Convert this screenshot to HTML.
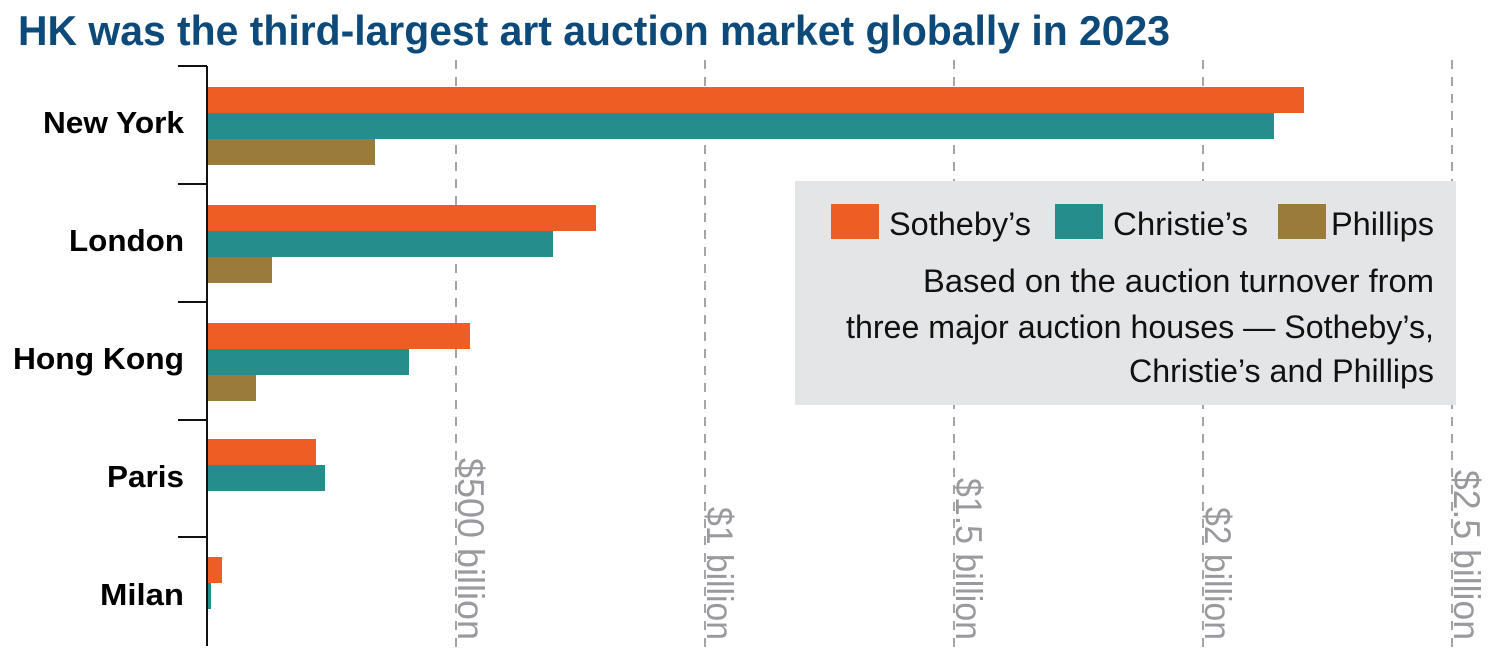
<!DOCTYPE html>
<html><head><meta charset="utf-8"><style>
html,body{margin:0;padding:0;background:#fff;}
svg{display:block;}
</style></head><body>
<svg width="1509" height="666" viewBox="0 0 1509 666" xmlns="http://www.w3.org/2000/svg" font-family="'Liberation Sans Narrow','Liberation Sans',sans-serif">
<text x="18" y="45" font-size="42" font-weight="bold" fill="#0d4a7a" textLength="1152" lengthAdjust="spacingAndGlyphs">HK was the third-largest art auction market globally in 2023</text>
<g stroke="#a5a5a8" stroke-width="2" stroke-dasharray="9 8">
<line x1="456" y1="60" x2="456" y2="652"/>
<line x1="705" y1="60" x2="705" y2="652"/>
<line x1="954" y1="60" x2="954" y2="652"/>
<line x1="1203" y1="60" x2="1203" y2="652"/>
<line x1="1452" y1="60" x2="1452" y2="652"/>
</g>
<rect x="795" y="181" width="661" height="224" fill="#e4e5e6"/>
<g fill="#9a9a9e" font-size="37">
<text transform="translate(458,458) rotate(90)" textLength="182" lengthAdjust="spacingAndGlyphs">$500 billion</text>
<text transform="translate(707,507) rotate(90)" textLength="133" lengthAdjust="spacingAndGlyphs">$1 billion</text>
<text transform="translate(956,478) rotate(90)" textLength="162" lengthAdjust="spacingAndGlyphs">$1.5 billion</text>
<text transform="translate(1205,507) rotate(90)" textLength="133" lengthAdjust="spacingAndGlyphs">$2 billion</text>
<text transform="translate(1454,470) rotate(90)" textLength="170" lengthAdjust="spacingAndGlyphs">$2.5 billion</text>
</g>
<g stroke="#111" stroke-width="2" fill="none">
<line x1="207" y1="66" x2="207" y2="646"/>
<line x1="178" y1="66" x2="207" y2="66"/>
<line x1="178" y1="184" x2="207" y2="184"/>
<line x1="178" y1="302" x2="207" y2="302"/>
<line x1="178" y1="420" x2="207" y2="420"/>
<line x1="178" y1="537" x2="207" y2="537"/>
</g>
<g>
<rect x="208" y="87" width="1096" height="26" fill="#ee5e24"/>
<rect x="208" y="113" width="1066" height="26" fill="#258d8c"/>
<rect x="208" y="139" width="167" height="26" fill="#9a7b3c"/>
<rect x="208" y="205" width="388" height="26" fill="#ee5e24"/>
<rect x="208" y="231" width="345" height="26" fill="#258d8c"/>
<rect x="208" y="257" width="64" height="26" fill="#9a7b3c"/>
<rect x="208" y="323" width="262" height="26" fill="#ee5e24"/>
<rect x="208" y="349" width="201" height="26" fill="#258d8c"/>
<rect x="208" y="375" width="48" height="26" fill="#9a7b3c"/>
<rect x="208" y="439" width="108" height="26" fill="#ee5e24"/>
<rect x="208" y="465" width="117" height="26" fill="#258d8c"/>
<rect x="208" y="557" width="14" height="26" fill="#ee5e24"/>
<rect x="208" y="583" width="3" height="26" fill="#258d8c"/>
</g>
<g font-family="'Liberation Sans',sans-serif" font-weight="bold" font-size="31" fill="#000">
<text x="43" y="133" textLength="141" lengthAdjust="spacingAndGlyphs">New York</text>
<text x="69" y="251" textLength="115" lengthAdjust="spacingAndGlyphs">London</text>
<text x="13" y="369" textLength="171" lengthAdjust="spacingAndGlyphs">Hong Kong</text>
<text x="107" y="487" textLength="77" lengthAdjust="spacingAndGlyphs">Paris</text>
<text x="100" y="605" textLength="84" lengthAdjust="spacingAndGlyphs">Milan</text>
</g>
<rect x="831" y="204" width="48" height="35" fill="#ee5e24"/>
<rect x="1055" y="204" width="48" height="35" fill="#258d8c"/>
<rect x="1278" y="204" width="48" height="35" fill="#9a7b3c"/>
<g font-size="32" fill="#111">
<text x="889" y="235" textLength="142" lengthAdjust="spacingAndGlyphs">Sotheby’s</text>
<text x="1113" y="235" textLength="135" lengthAdjust="spacingAndGlyphs">Christie’s</text>
<text x="1331" y="235" textLength="103" lengthAdjust="spacingAndGlyphs">Phillips</text>
<text x="923" y="292" textLength="511" lengthAdjust="spacingAndGlyphs">Based on the auction turnover from</text>
<text x="846" y="338" textLength="588" lengthAdjust="spacingAndGlyphs">three major auction houses — Sotheby’s,</text>
<text x="1129" y="382" textLength="305" lengthAdjust="spacingAndGlyphs">Christie’s and Phillips</text>
</g>
</svg>
</body></html>
